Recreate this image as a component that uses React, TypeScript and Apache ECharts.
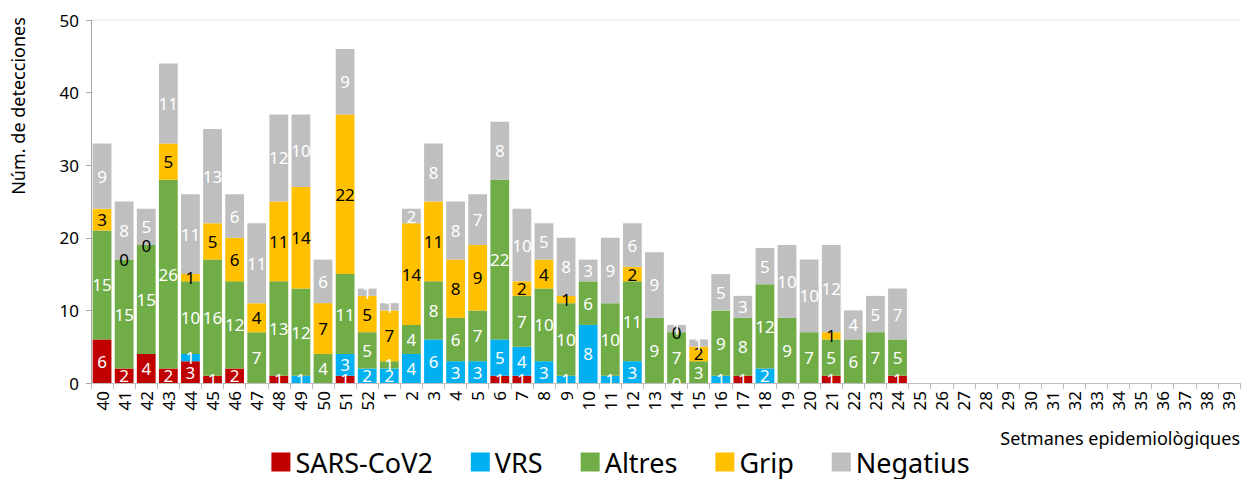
import React, { useEffect, useRef } from "react";
import * as echarts from "echarts";

const weeks = ["40","41","42","43","44","45","46","47","48","49","50","51","52","1","2","3","4","5","6","7","8","9","10","11","12","13","14","15","16","17","18","19","20","21","22","23","24","25","26","27","28","29","30","31","32","33","34","35","36","37","38","39"];

const N = null;
const sars = [6,2,4,2,3,1,2,N,1,N,N,1,N,N,N,N,N,N,1,1,N,N,N,N,N,N,0,N,N,1,N,N,N,1,N,N,1];
const vrs = [N,N,N,N,1,N,N,N,N,1,N,3,2,2,4,6,3,3,5,4,3,1,8,1,3,N,N,N,1,N,2,N,N,N,N,N,N];
const altres = [15,15,15,26,10,16,12,7,13,12,4,11,5,1,4,8,6,7,22,7,10,10,6,10,11,9,7,3,9,8,11.6,9,7,5,6,7,5];
const grip = [3,0,0,5,1,5,6,4,11,14,7,22,5,7,14,11,8,9,N,2,4,1,N,N,2,N,0,2,N,N,N,N,N,1,N,N,N];
const negatius = [9,8,5,11,11,13,6,11,12,10,6,9,1,1,2,8,8,7,8,10,5,8,3,9,6,9,1,1,5,3,5,10,10,12,4,5,7];

const seriesNames = ["SARS-CoV2", "VRS", "Altres", "Grip", "Negatius"];
const seriesColors = ["#C00000", "#00B0F0", "#70AD47", "#FFC000", "#BFBFBF"];
const labelColors = ["#ffffff", "#ffffff", "#ffffff", "#000000", "#ffffff"];
const seriesData = [sars, vrs, altres, grip, negatius];

const FONT = "Noto Sans";

export default function App() {
  const ref = useRef<HTMLDivElement>(null);
  useEffect(() => {
    const chart = echarts.init(ref.current!, null, { renderer: "svg" });
    chart.setOption({
      animation: false,
      textStyle: { fontFamily: FONT },
      grid: { left: 91, right: 1, top: 20, bottom: 96, containLabel: false },
      legend: {
        bottom: 3,
        left: "center",
        itemWidth: 19,
        itemHeight: 19,
        itemGap: 38,
        icon: "rect",
        padding: [0, 5, 0, 5],
        textStyle: { fontSize: 27, color: "#000", fontFamily: FONT, lineHeight: 28 },
        data: seriesNames,
      },
      xAxis: {
        type: "category",
        data: weeks,
        axisLine: { lineStyle: { color: "#BFBFBF" } },
        axisTick: { show: true, alignWithLabel: false, length: 6, lineStyle: { color: "#BFBFBF" } },
        axisLabel: { rotate: 90, interval: 0, fontSize: 17, color: "#000", margin: 8, fontFamily: FONT },
      },
      yAxis: {
        type: "value",
        min: 0,
        max: 50,
        interval: 10,
        axisLine: { show: true, lineStyle: { color: "#A6A6A6" } },
        axisTick: { show: true, length: 5, lineStyle: { color: "#A6A6A6" } },
        splitLine: { show: false },
        axisLabel: { fontSize: 17, color: "#000", margin: 12, fontFamily: FONT },
      },
      graphic: [
        {
          type: "line",
          shape: { x1: 91, y1: 20, x2: 1240, y2: 20 },
          style: { stroke: "#EDEDED", lineWidth: 1.5 },
        },
        {
          type: "text",
          x: 18,
          y: 106,
          rotation: Math.PI / 2,
          style: {
            text: "Núm. de detecciones",
            fontSize: 18,
            fontFamily: FONT,
            fill: "#000",
            align: "center",
            verticalAlign: "middle",
          },
        },
        {
          type: "text",
          right: 1,
          top: 429,
          style: {
            text: "Setmanes epidemiològiques",
            fontSize: 18,
            fontFamily: FONT,
            fill: "#000",
          },
        },
      ],
      series: seriesNames.map((name, i) => ({
        name,
        type: "bar",
        stack: "total",
        barCategoryGap: "15%",
        data: seriesData[i],
        itemStyle: { color: seriesColors[i] },
        label: {
          show: true,
          position: "inside",
          fontSize: 17,
          fontFamily: FONT,
          color: labelColors[i],
          formatter: (p: any) => (p.value == null ? "" : String(Math.round(p.value))),
        },
      })),
    });
    return () => chart.dispose();
  }, []);
  return (
    <div
      ref={ref}
      style={{ position: "absolute", left: 0, top: 0, width: 1241, height: 479, background: "#fff" }}
    />
  );
}
